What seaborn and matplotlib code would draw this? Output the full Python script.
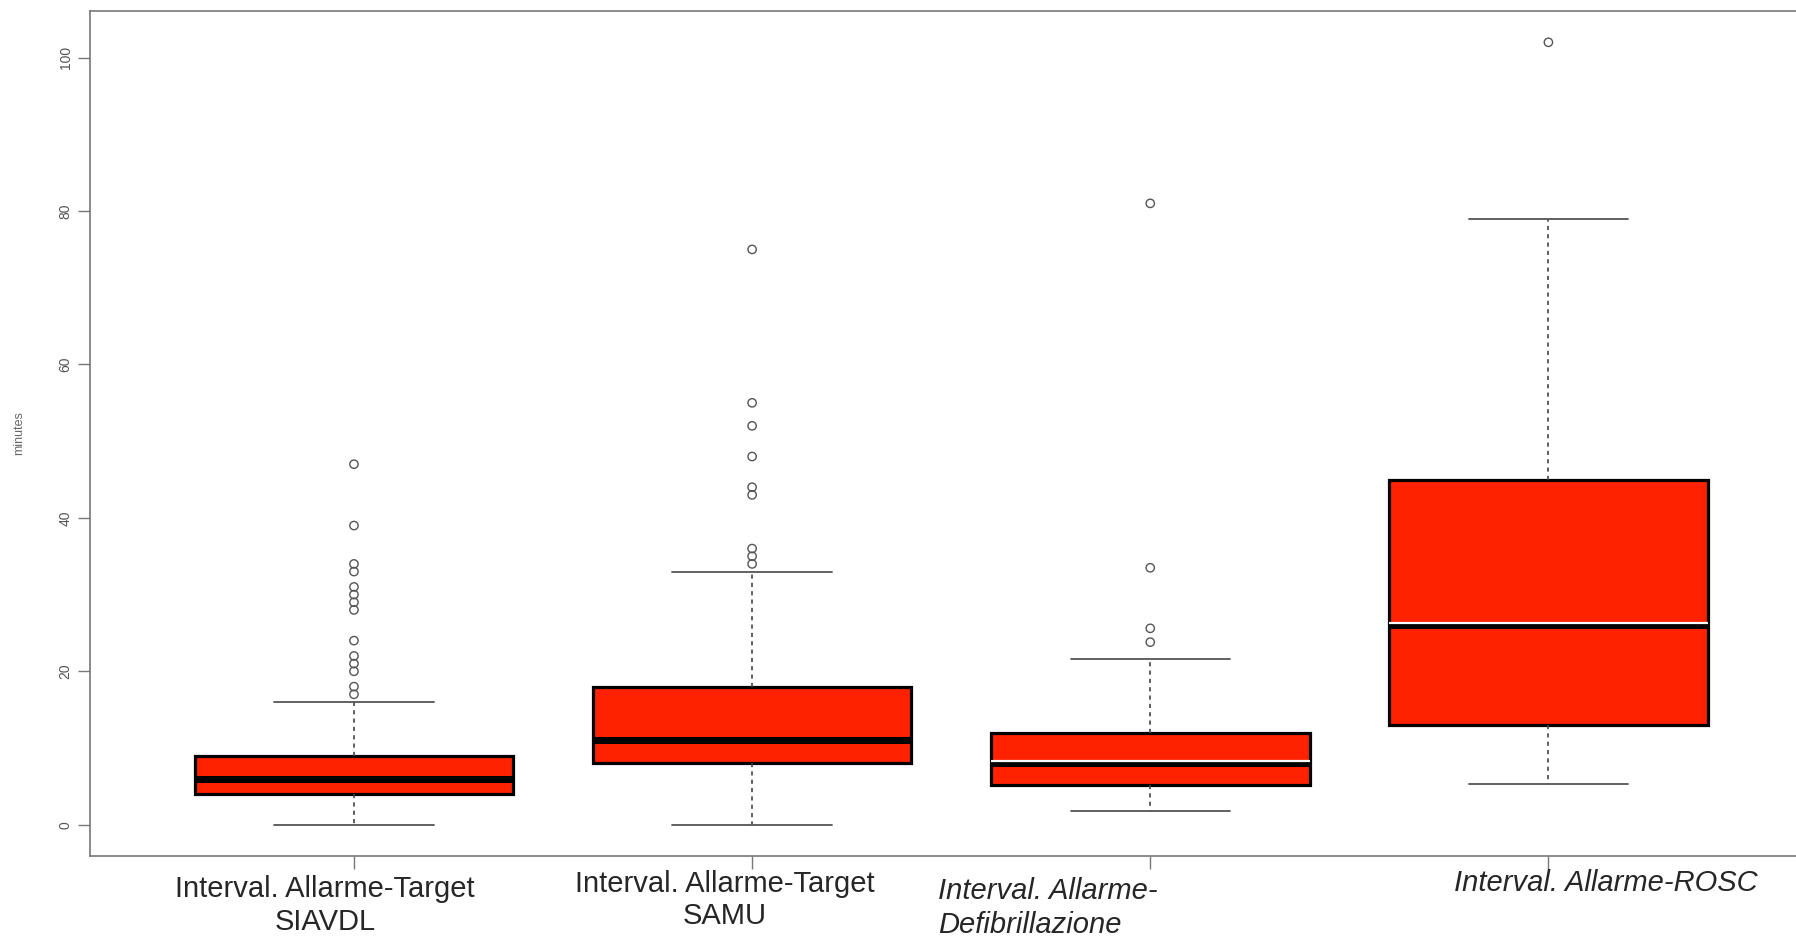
import numpy as np
import pandas as pd
import matplotlib
matplotlib.use("Agg")
import matplotlib.pyplot as plt
import seaborn as sns

# box statistics (minutes)
groups = ["SIAVDL", "SAMU", "Defibrillazione", "ROSC"]
whis_lo = [0, 0, 1.8, 5.3]
q1 = [4, 8, 5.2, 13]
median = [6, 11, 8, 26]
q3 = [9, 18, 12, 45]
whis_hi = [16, 33, 21.6, 79]

# outliers
out_siavdl = [47, 39, 34, 33, 31, 30, 29, 28, 24, 22, 21, 20, 18, 17]
out_samu = [75, 55, 52, 48, 44, 43, 36, 35, 34]
out_defib = [81, 33.5, 25.6, 23.8]
out_rosc = [102]

labels = [
    ("Interval. Allarme-Target", "SIAVDL"),
    ("Interval. Allarme-Target", "SAMU"),
    ("Interval. Allarme-", "Defibrillazione"),
    ("Interval. Allarme-ROSC", ""),
]

sns.set_style("white")
plt.rcParams["font.family"] = ["Liberation Sans", "DejaVu Sans"]

W, H = 1796, 941
fig = plt.figure(figsize=(W / 100, H / 100), dpi=100)
ax = fig.add_axes([90 / W, 1 - 856 / H, (W - 90) / W + 0.01, (856 - 11) / H])

red = "#ff2200"
stats = []
for i in range(len(groups)):
    stats.append(dict(whislo=whis_lo[i], q1=q1[i], med=median[i], q3=q3[i],
                      whishi=whis_hi[i], fliers=[], label=groups[i]))

ax.bxp(stats, positions=range(4), widths=0.8, capwidths=0.4, patch_artist=True,
       showfliers=False,
       boxprops=dict(facecolor=red, edgecolor="black", linewidth=2.3),
       medianprops=dict(color="black", linewidth=5, solid_capstyle="butt"),
       whiskerprops=dict(color="#444444", linewidth=1.2, linestyle=(0, (2.5, 2.5))),
       capprops=dict(color="#555555", linewidth=1.3))

# white median highlight on the last two boxes
for i in [2, 3]:
    ax.plot([i - 0.4, i + 0.4], [median[i] + 0.25, median[i] + 0.25],
            color="white", linewidth=1.6, solid_capstyle="butt", zorder=5)

out_df = pd.DataFrame({
    "group": [groups[0]] * len(out_siavdl) + [groups[1]] * len(out_samu)
    + [groups[2]] * len(out_defib) + [groups[3]] * len(out_rosc),
    "minutes": out_siavdl + out_samu + out_defib + out_rosc,
})
sns.stripplot(data=out_df, x="group", y="minutes", order=groups, jitter=False,
              color="white", edgecolor="#555555", linewidth=1, size=6, ax=ax,
              zorder=4)
for coll in ax.collections:
    coll.set_facecolor("none")

ax.set_xlim(-0.663, 3.667)
ax.set_ylim(-4.08, 106.08)
ax.set_yticks([0, 20, 40, 60, 80, 100])
ax.set_yticklabels(["0", "20", "40", "60", "80", "100"], rotation=90,
                   va="center", fontsize=10, color="#555555")
ax.set_xticks(range(4))
ax.set_xticklabels([])
ax.tick_params(axis="both", direction="out", length=9, width=1, color="#777777",
               left=True, bottom=True)
ax.set_xlabel("")
ax.set_ylabel("minutes", fontsize=9, color="#666666", labelpad=24)

for side in ["left", "bottom", "top"]:
    ax.spines[side].set_color("#777777")
    ax.spines[side].set_linewidth(1.2)
ax.spines["right"].set_visible(False)

# category labels under the axis
fs = 21
fig.text(325 / W, 1 - 889 / H, labels[0][0], ha="center", va="center", fontsize=fs)
fig.text(325 / W, 1 - 922 / H, labels[0][1], ha="center", va="center", fontsize=fs)
fig.text(725 / W, 1 - 884 / H, labels[1][0], ha="center", va="center", fontsize=fs)
fig.text(725 / W, 1 - 916 / H, labels[1][1], ha="center", va="center", fontsize=fs)
fig.text(938 / W, 1 - 891 / H, labels[2][0], ha="left", va="center", fontsize=fs,
         style="italic")
fig.text(938 / W, 1 - 925 / H, labels[2][1], ha="left", va="center", fontsize=fs,
         style="italic")
fig.text(1606 / W, 1 - 883 / H, labels[3][0], ha="center", va="center", fontsize=fs,
         style="italic")

fig.savefig("out.png", dpi=100)
